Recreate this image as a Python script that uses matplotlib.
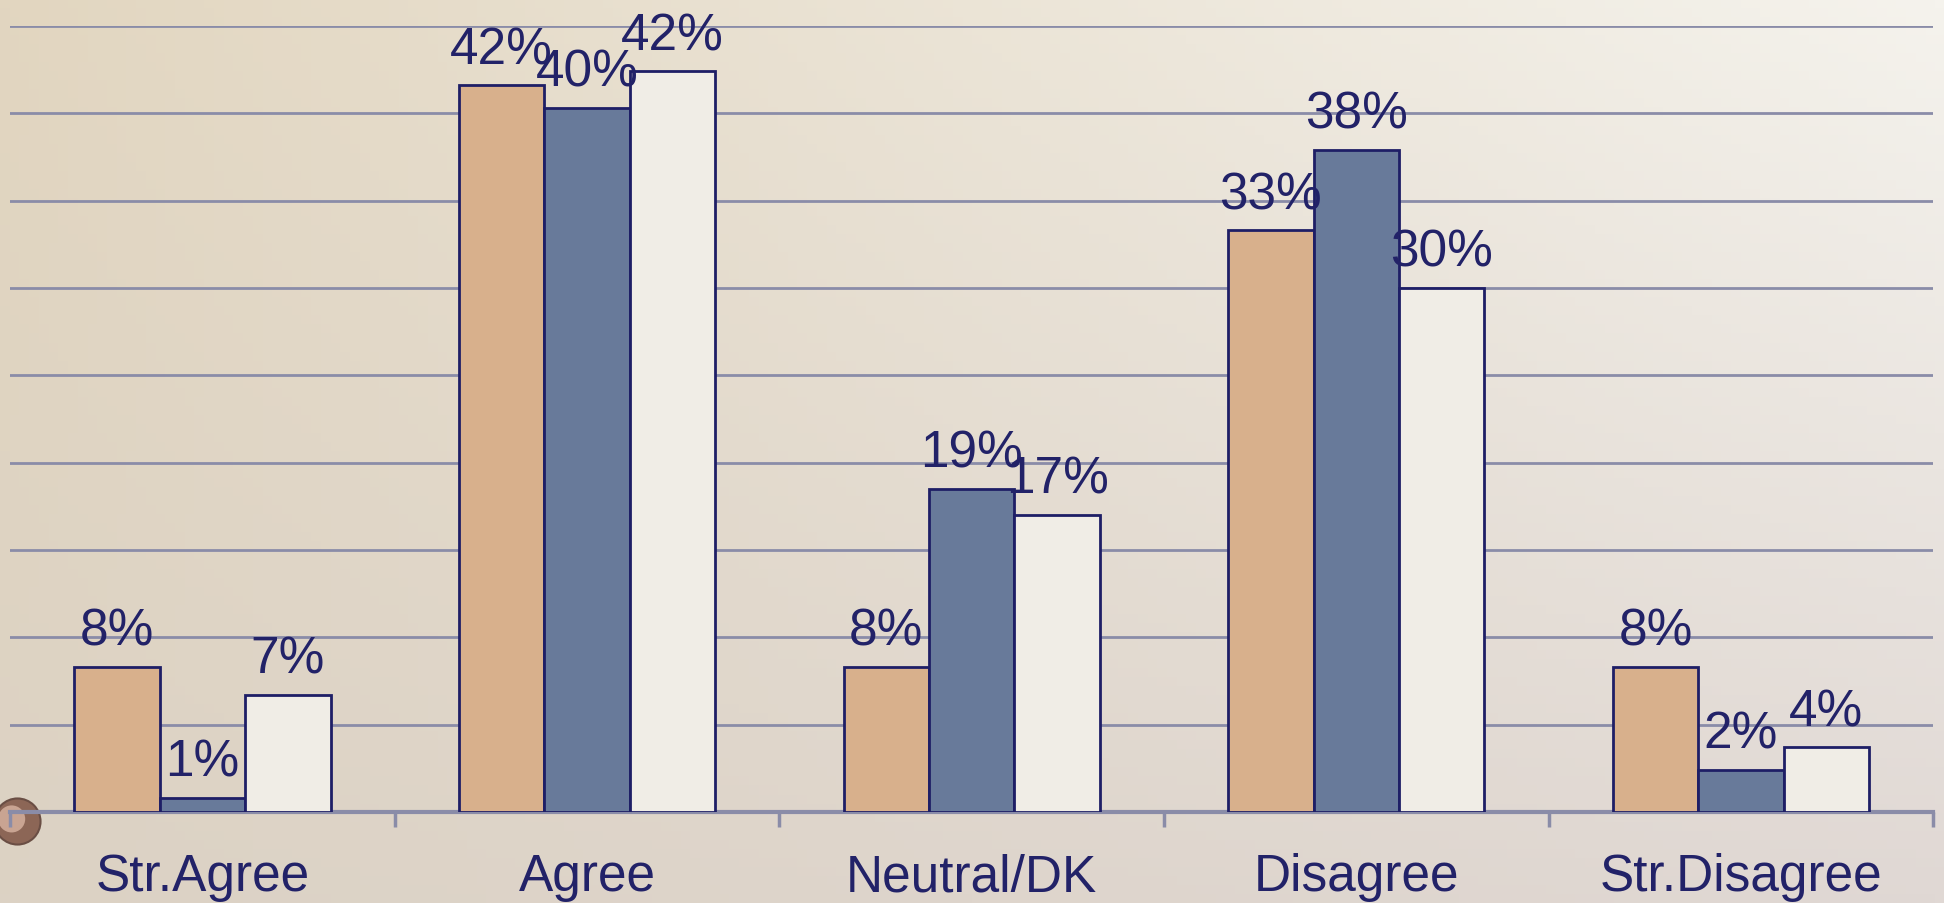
import numpy as np
import matplotlib
matplotlib.use("Agg")
from matplotlib import pyplot as plt

# Data
categories = ["Str.Agree", "Agree", "Neutral/DK", "Disagree", "Str.Disagree"]
series_a = [8.3, 41.6, 8.3, 33.3, 8.3]
series_b = [0.8, 40.3, 18.5, 37.9, 2.4]
series_c = [6.7, 42.4, 17.0, 30.0, 3.7]
labels_a = ["8%", "42%", "8%", "33%", "8%"]
labels_b = ["1%", "40%", "19%", "38%", "2%"]
labels_c = ["7%", "42%", "17%", "30%", "4%"]

colors = ["#D8B08C", "#687A9A", "#F0EDE6"]
edge = "#1E1E66"
text_clr = "#222268"
grid_clr = "#8A8CA8"

plt.rcParams["font.family"] = ["Liberation Sans", "DejaVu Sans"]

fig = plt.figure(figsize=(19.44, 9.04), dpi=100)

# Paper-like background: smooth gradient between corner colours
bg = fig.add_axes([0, 0, 1, 1], zorder=0)
tl = np.array([226, 214, 192]) / 255
tr = np.array([245, 243, 237]) / 255
bl = np.array([220, 210, 196]) / 255
br = np.array([224, 216, 212]) / 255
u = np.linspace(0, 1, 200)[None, :, None]
v = np.linspace(0, 1, 100)[:, None, None]
img = (1 - v) * ((1 - u) * tl + u * tr) + v * ((1 - u) * bl + u * br)
bg.imshow(img, aspect="auto", extent=[0, 1, 0, 1])
bg.set_xlim(0, 1)
bg.set_ylim(0, 1)
bg.axis("off")
# small decorative bead at the lower-left corner
bg.scatter([0.009], [0.091], s=1100, color="#8C6656", edgecolors="#6A4E44",
           linewidths=1.5, zorder=2)
bg.scatter([0.006], [0.093], s=380, color="#C9A492", edgecolors="none",
           zorder=3)

ax = fig.add_axes([0.0052, 0.1007, 0.9893, 0.8696], zorder=1)
ax.patch.set_alpha(0)

x = np.arange(len(categories))
w = 0.222
for off, vals, labs, clr in [(-w, series_a, labels_a, colors[0]),
                             (0, series_b, labels_b, colors[1]),
                             (w, series_c, labels_c, colors[2])]:
    bars = ax.bar(x + off, vals, width=w, color=clr, edgecolor=edge,
                  linewidth=2, zorder=3)
    for b, lab in zip(bars, labs):
        ax.annotate(lab, (b.get_x() + b.get_width() / 2, b.get_height()),
                    xytext=(0, 16), textcoords="offset points",
                    ha="center", va="baseline", fontsize=37,
                    color=text_clr, zorder=4)

ax.set_xlim(-0.5, 4.5)
ax.set_ylim(0, 45)
ax.set_yticks(np.arange(5, 46, 5))
ax.yaxis.grid(True, color=grid_clr, linewidth=2)
ax.set_axisbelow(True)
ax.tick_params(axis="y", left=False, labelleft=False)

# boundary ticks, labels at category centres
ax.set_xticks(np.arange(-0.5, 4.6, 1))
ax.set_xticklabels([])
ax.tick_params(axis="x", which="major", direction="out", length=11,
               width=2.5, color=grid_clr)
ax.set_xticks(x, minor=True)
ax.set_xticklabels(categories, minor=True, fontsize=37, color=text_clr)
ax.tick_params(axis="x", which="minor", length=0, pad=29)

for s in ["top", "right", "left"]:
    ax.spines[s].set_visible(False)
ax.spines["bottom"].set_color(grid_clr)
ax.spines["bottom"].set_linewidth(3)

fig.savefig("out.png", dpi=100)
